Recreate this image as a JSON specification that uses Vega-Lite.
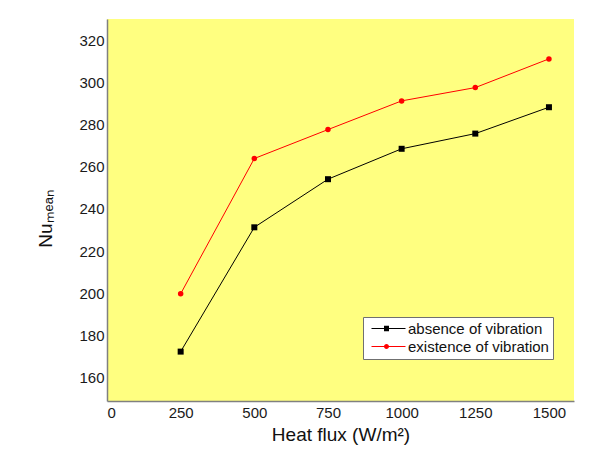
{
  "$schema": "https://vega.github.io/schema/vega-lite/v6.json",
  "width": 467,
  "height": 382,
  "autosize": {"type": "none"},
  "padding": {"left": 107, "top": 19, "right": 29, "bottom": 62},
  "background": "white",
  "config": {
    "view": {"fill": "#ffff80", "stroke": null},
    "font": "Liberation Sans",
    "axis": {
      "grid": false,
      "ticks": false,
      "domainColor": "#808080",
      "domainWidth": 1.5,
      "labelFont": "Liberation Sans",
      "labelFontSize": 15,
      "labelColor": "#1a1a1a",
      "titleFont": "Liberation Sans",
      "titleFontSize": 19,
      "titleFontWeight": "normal",
      "titleColor": "#111111"
    }
  },
  "data": {
    "values": [
      {"flux": 250, "nu": 172.4, "series": "absence of vibration"},
      {"flux": 500, "nu": 231.3, "series": "absence of vibration"},
      {"flux": 750, "nu": 254.1, "series": "absence of vibration"},
      {"flux": 1000, "nu": 268.5, "series": "absence of vibration"},
      {"flux": 1250, "nu": 275.7, "series": "absence of vibration"},
      {"flux": 1500, "nu": 288.2, "series": "absence of vibration"},
      {"flux": 250, "nu": 199.8, "series": "existence of vibration"},
      {"flux": 500, "nu": 263.9, "series": "existence of vibration"},
      {"flux": 750, "nu": 277.6, "series": "existence of vibration"},
      {"flux": 1000, "nu": 291.2, "series": "existence of vibration"},
      {"flux": 1250, "nu": 297.5, "series": "existence of vibration"},
      {"flux": 1500, "nu": 311.1, "series": "existence of vibration"}
    ]
  },
  "encoding": {
    "x": {
      "field": "flux",
      "type": "quantitative",
      "scale": {"domain": [0, 1585], "nice": false, "zero": false},
      "axis": {
        "values": [0, 250, 500, 750, 1000, 1250, 1500],
        "format": "d",
        "labelPadding": 4,
        "title": "Heat flux (W/m²)",
        "titlePadding": 5
      }
    },
    "y": {
      "field": "nu",
      "type": "quantitative",
      "scale": {"domain": [149, 330], "nice": false, "zero": false},
      "axis": {
        "values": [160, 180, 200, 220, 240, 260, 280, 300, 320],
        "labelPadding": 3,
        "title": "Nuₘₑₐₙ",
        "titleAngle": -90,
        "titleX": -56,
        "titleY": 199,
        "titleAlign": "center",
        "titleBaseline": "alphabetic"
      }
    },
    "color": {
      "field": "series",
      "type": "nominal",
      "scale": {"domain": ["absence of vibration", "existence of vibration"], "range": ["#000000", "#ff0000"]},
      "legend": {
        "title": null,
        "orient": "none",
        "legendX": 256,
        "legendY": 298,
        "direction": "vertical",
        "fillColor": "white",
        "strokeColor": "#707070",
        "padding": 4,
        "cornerRadius": 0,
        "labelFont": "Liberation Sans",
        "labelFontSize": 15,
        "labelColor": "#111111",
        "labelOffset": 26,
        "rowPadding": 2,
        "symbolSize": 100,
        "encode": {
          "symbols": {
            "update": {
              "shape": {"signal": "datum.value == 'absence of vibration' ? 'M-0.6,-0.1H6.2V0.1H-0.6Z M1.9,-0.55H2.9V0.55H1.9Z' : 'M-0.6,-0.1H6.2V0.1H-0.6Z M1.9,0A0.5,0.5 0 1,1 2.9,0A0.5,0.5 0 1,1 1.9,0Z'"},
              "fill": {"scale": "color", "field": "value"},
              "strokeWidth": {"value": 0},
              "opacity": {"value": 1},
              "fillOpacity": {"value": 1}
            }
          }
        }
      }
    }
  },
  "layer": [
    {"mark": {"type": "line", "strokeWidth": 1}},
    {
      "transform": [{"filter": "datum.series == 'absence of vibration'"}],
      "mark": {"type": "point", "filled": true, "opacity": 1, "shape": "square", "size": 36}
    },
    {
      "transform": [{"filter": "datum.series == 'existence of vibration'"}],
      "mark": {"type": "point", "filled": true, "opacity": 1, "shape": "circle", "size": 30}
    }
  ]
}
